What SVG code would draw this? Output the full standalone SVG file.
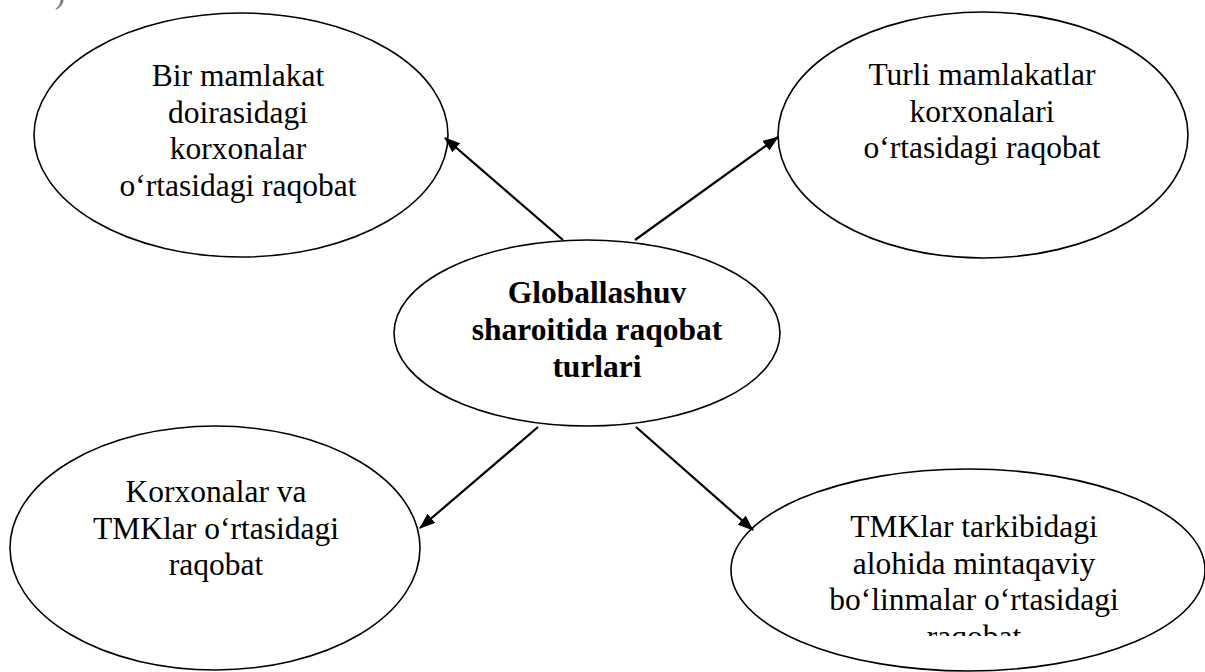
<svg xmlns="http://www.w3.org/2000/svg" width="1205" height="672" viewBox="0 0 1205 672">
<style>
.node ellipse{fill:#fff;stroke:#000;stroke-width:1.6}
.conn line{stroke:#000;stroke-width:2.2}
</style>
<defs>
<marker id="ah" markerUnits="userSpaceOnUse" viewBox="0 0 16 12" markerWidth="16" markerHeight="12" refX="15" refY="6" orient="auto">
<path d="M0,0 L16,6 L0,12 z" fill="#000"/>
</marker>
<clipPath id="clipBR"><rect x="730" y="470" width="475" height="166"/></clipPath>
</defs>
<rect width="1205" height="672" fill="#fff"/>
<g font-family="'Liberation Serif', 'Times New Roman', serif" font-size="31.5" text-anchor="middle" fill="#000">
<text x="60" y="3" fill="#777">)</text>
<g id="n-top-left" class="node">
<ellipse cx="241" cy="135" rx="207" ry="122"/>
<text><tspan x="238" y="86">Bir mamlakat</tspan><tspan x="238" y="122.5">doirasidagi</tspan><tspan x="238" y="159">korxonalar</tspan><tspan x="238" y="195.5">o‘rtasidagi raqobat</tspan></text>
</g>
<g id="n-top-right" class="node">
<ellipse cx="983" cy="135" rx="205" ry="123"/>
<text><tspan x="982" y="85">Turli mamlakatlar</tspan><tspan x="982" y="121.5">korxonalari</tspan><tspan x="982" y="158">o‘rtasidagi raqobat</tspan></text>
</g>
<g id="n-center" class="node">
<ellipse cx="587" cy="333" rx="193" ry="93"/>
<text font-weight="bold"><tspan x="597" y="303">Globallashuv</tspan><tspan x="597" y="340">sharoitida raqobat</tspan><tspan x="597" y="377">turlari</tspan></text>
</g>
<g id="n-bottom-left" class="node">
<ellipse cx="215" cy="548" rx="205" ry="122"/>
<text><tspan x="216" y="502">Korxonalar va</tspan><tspan x="216" y="538.5">TMKlar o‘rtasidagi</tspan><tspan x="216" y="575">raqobat</tspan></text>
</g>
<g id="n-bottom-right" class="node">
<ellipse cx="968" cy="570" rx="237" ry="101"/>
<text clip-path="url(#clipBR)"><tspan x="974" y="537">TMKlar tarkibidagi</tspan><tspan x="974" y="573.5">alohida mintaqaviy</tspan><tspan x="974" y="610">bo‘linmalar o‘rtasidagi</tspan><tspan x="974" y="646.5">raqobat</tspan></text>
</g>
</g>
<g id="connectors" class="conn">
<line x1="563" y1="240" x2="445" y2="138" marker-end="url(#ah)"/>
<line x1="635" y1="240" x2="778" y2="137" marker-end="url(#ah)"/>
<line x1="538" y1="427" x2="420" y2="528" marker-end="url(#ah)"/>
<line x1="636" y1="427" x2="753" y2="530" marker-end="url(#ah)"/>
</g>
</svg>
